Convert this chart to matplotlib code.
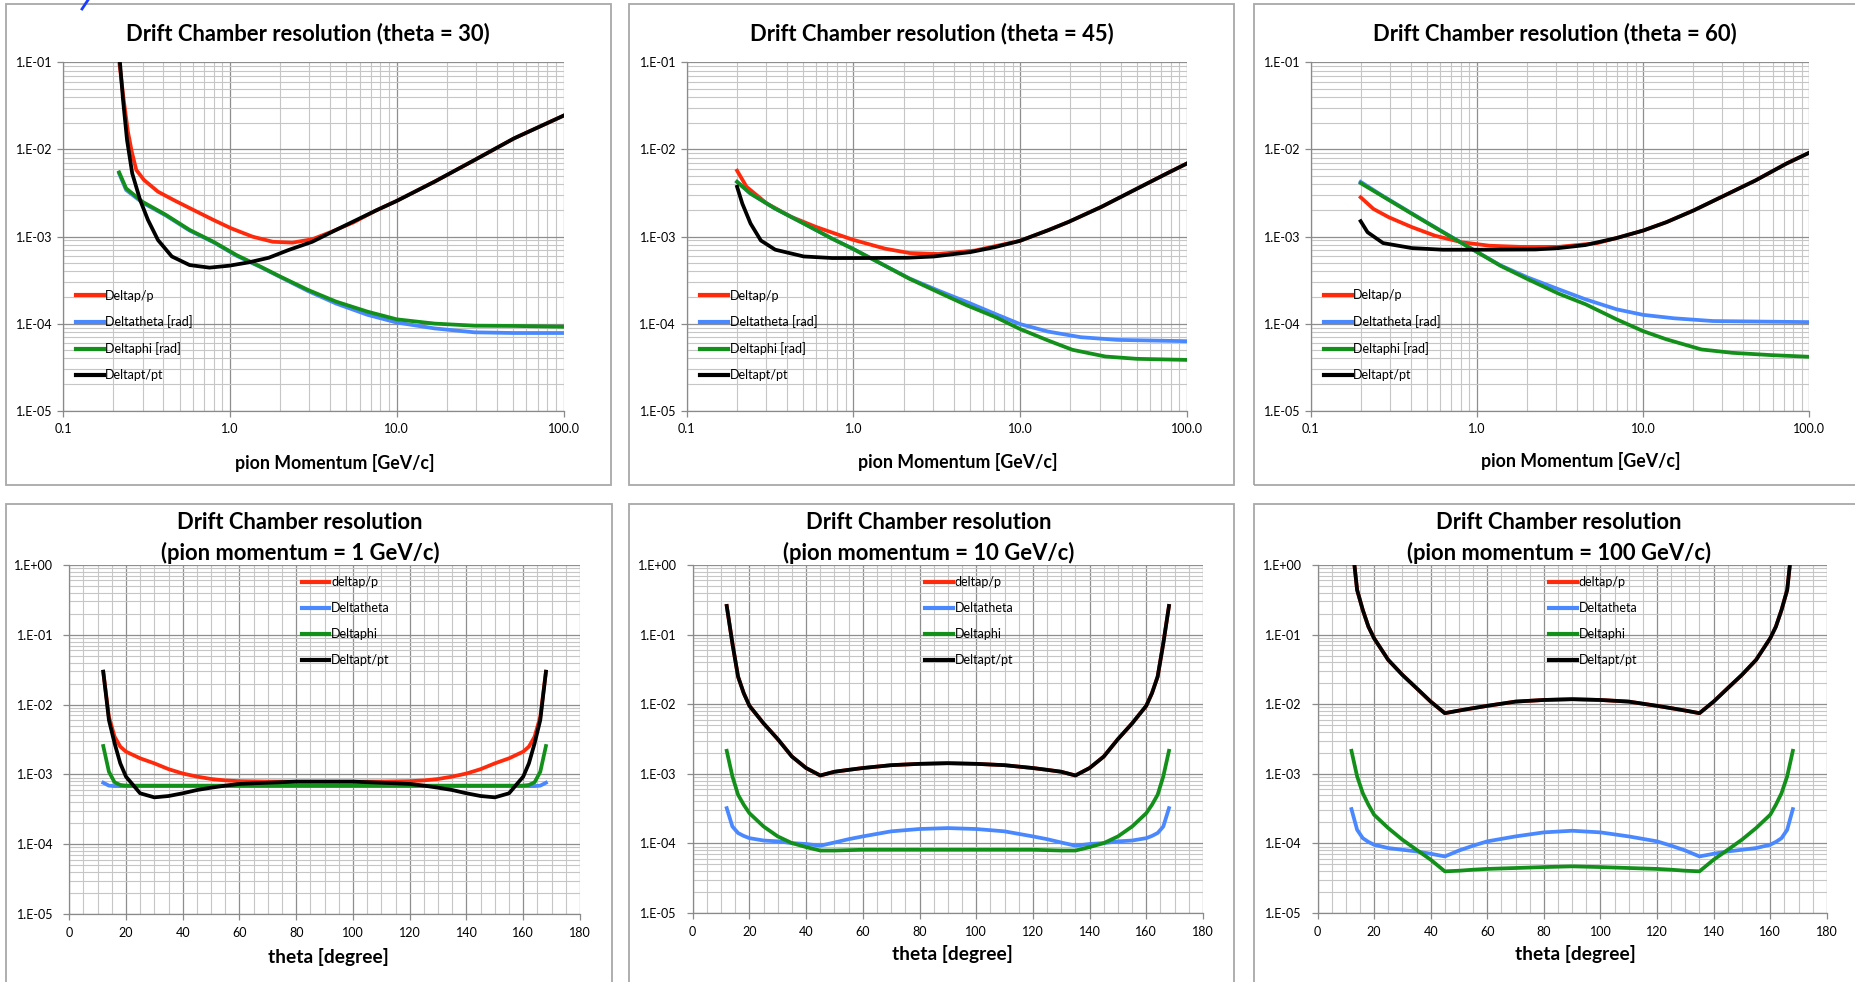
import numpy as np
import matplotlib
matplotlib.use('Agg')
import matplotlib.pyplot as plt
from matplotlib.patches import Rectangle
from matplotlib.lines import Line2D
from matplotlib.ticker import (LogLocator, FixedLocator, MultipleLocator,
                               FuncFormatter, NullFormatter)

plt.rcParams['font.family'] = ['Lato', 'DejaVu Sans']

W, H = 1855, 982

RED = '#ff2a0c'
BLUE = '#4a88ff'
GREEN = '#13901a'
BLACK = '#000000'

# ---- momentum scans (theta fixed) ----
# theta = 30
mom30_dp = [0.215, 0.232, 0.245, 0.258, 0.275, 0.306, 0.371, 0.461, 0.607, 0.797, 1.02, 1.37,
            1.81, 2.37, 3.12, 4.1, 5.5, 7.48, 10.0, 16.9, 29.3, 50.6, 100.0]
dp30 = [0.12, 0.035, 0.016, 0.0095, 5.8e-3, 4.45e-3, 3.27e-3, 2.62e-3, 2.01e-3, 1.55e-3, 1.24e-3, 9.95e-4,
        8.7e-4, 8.5e-4, 9.3e-4, 1.14e-3, 1.45e-3, 1.98e-3, 2.56e-3, 4.27e-3, 7.55e-3, 1.34e-2, 2.44e-2]
mom30_ang = [0.217, 0.239, 0.299, 0.414, 0.574, 0.797, 1.10, 1.53, 2.01, 2.95, 4.33, 6.7, 10.0,
             16.9, 29.3, 50.0, 100.0]
dth30 = [5.3e-3, 3.42e-3, 2.45e-3, 1.74e-3, 1.17e-3, 8.6e-4, 6.0e-4, 4.45e-4, 3.42e-4, 2.36e-4,
         1.70e-4, 1.26e-4, 1.03e-4, 8.8e-5, 7.94e-5, 7.8e-5, 7.8e-5]
dph30 = [5.45e-3, 3.57e-3, 2.51e-3, 1.77e-3, 1.19e-3, 8.7e-4, 6.1e-4, 4.5e-4, 3.46e-4, 2.43e-4,
         1.79e-4, 1.37e-4, 1.12e-4, 1.0e-4, 9.46e-5, 9.4e-5, 9.2e-5]
mom30_dpt = [0.213, 0.229, 0.242, 0.26, 0.29, 0.323, 0.371, 0.449, 0.574, 0.755, 0.99, 1.30, 1.71,
             2.25, 3.12, 4.33, 7.48, 10.0, 16.9, 29.3, 50.6, 100.0]
dpt30 = [0.2, 0.037, 0.0128, 5.3e-3, 2.62e-3, 1.55e-3, 9.1e-4, 5.9e-4, 4.7e-4, 4.39e-4, 4.62e-4,
         5.05e-4, 5.7e-4, 7.0e-4, 8.7e-4, 1.19e-3, 1.98e-3, 2.56e-3, 4.27e-3, 7.55e-3, 1.34e-2, 2.44e-2]

# theta = 45
mom45_dp = [0.201, 0.229, 0.303, 0.425, 0.596, 0.99, 1.55, 2.17, 3.22, 5.35, 9.94, 14.7, 19.5,
            30.7, 48.1, 75.5, 100.0]
dp45 = [5.7e-3, 3.72e-3, 2.39e-3, 1.68e-3, 1.29e-3, 9.2e-4, 7.25e-4, 6.46e-4, 6.3e-4, 6.9e-4,
        8.9e-4, 1.18e-3, 1.47e-3, 2.19e-3, 3.4e-3, 5.28e-3, 6.9e-3]
mom45_dth = [0.201, 0.242, 0.34, 0.504, 0.746, 0.99, 1.47, 2.17, 3.22, 4.79, 7.1, 9.94, 14.7,
             23.1, 38.4, 100.0]
dth45 = [4.24e-3, 3.11e-3, 2.09e-3, 1.41e-3, 9.45e-4, 7.25e-4, 4.87e-4, 3.3e-4, 2.4e-4, 1.77e-4,
         1.29e-4, 9.9e-5, 8.1e-5, 6.98e-5, 6.5e-5, 6.28e-5]
mom45_dph = [0.201, 0.242, 0.34, 0.504, 0.746, 0.99, 1.47, 2.17, 3.22, 4.79, 7.1, 9.94, 14.7,
             20.6, 32.4, 50.0, 100.0]
dph45 = [4.24e-3, 3.11e-3, 2.09e-3, 1.41e-3, 9.45e-4, 7.25e-4, 4.87e-4, 3.27e-4, 2.3e-4, 1.62e-4,
         1.19e-4, 8.7e-5, 6.4e-5, 5.0e-5, 4.19e-5, 3.94e-5, 3.83e-5]
mom45_dpt = [0.201, 0.216, 0.242, 0.279, 0.34, 0.504, 0.746, 1.17, 2.11, 3.05, 5.06, 7.1, 9.94,
             14.7, 19.5, 30.7, 48.1, 75.5, 100.0]
dpt45 = [3.72e-3, 2.39e-3, 1.41e-3, 9.0e-4, 7.06e-4, 5.9e-4, 5.66e-4, 5.66e-4, 5.7e-4, 5.9e-4,
         6.63e-4, 7.57e-4, 8.9e-4, 1.18e-3, 1.47e-3, 2.19e-3, 3.4e-3, 5.28e-3, 6.9e-3]

# theta = 60
mom60_dp = [0.2, 0.239, 0.296, 0.407, 0.561, 0.816, 1.19, 1.82, 3.1, 5.3, 6.92, 10.0, 13.8, 20.1,
            30.9, 47.4, 72.6, 100.0]
dp60 = [2.82e-3, 2.07e-3, 1.66e-3, 1.28e-3, 1.02e-3, 8.57e-4, 7.84e-4, 7.6e-4, 7.6e-4, 8.4e-4,
        9.6e-4, 1.17e-3, 1.46e-3, 1.99e-3, 2.96e-3, 4.4e-3, 6.86e-3, 9.18e-3]
mom60_dth = [0.2, 0.266, 0.407, 0.625, 1.01, 1.39, 2.02, 3.1, 4.5, 6.92, 10.0, 15.4, 26.3, 100.0]
dth60 = [4.24e-3, 3.0e-3, 1.84e-3, 1.13e-3, 6.6e-4, 4.65e-4, 3.39e-4, 2.48e-4, 1.9e-4, 1.46e-4,
         1.26e-4, 1.15e-4, 1.07e-4, 1.04e-4]
mom60_dph = [0.2, 0.266, 0.407, 0.625, 1.01, 1.39, 2.02, 3.1, 4.5, 6.92, 10.0, 13.8, 22.4, 34.4,
             58.6, 100.0]
dph60 = [4.1e-3, 2.96e-3, 1.82e-3, 1.12e-3, 6.58e-4, 4.6e-4, 3.24e-4, 2.21e-4, 1.67e-4, 1.12e-4,
         8.2e-5, 6.6e-5, 5.05e-5, 4.62e-5, 4.35e-5, 4.16e-5]
mom60_dpt = [0.2, 0.22, 0.273, 0.407, 0.625, 1.07, 2.25, 3.1, 4.5, 6.92, 10.0, 13.8, 20.1, 30.9,
             47.4, 72.6, 100.0]
dpt60 = [1.5e-3, 1.12e-3, 8.4e-4, 7.36e-4, 7.05e-4, 7.05e-4, 7.1e-4, 7.36e-4, 7.98e-4, 9.6e-4,
         1.17e-3, 1.46e-3, 1.99e-3, 2.96e-3, 4.4e-3, 6.86e-3, 9.18e-3]

# ---- theta scans (momentum fixed) ----
theta_deg = [12, 14, 16, 18, 20, 25, 30, 35, 40, 45, 50, 55, 60, 70, 80, 90,
             100, 110, 120, 125, 130, 135, 140, 145, 150, 155, 160, 162, 164, 166, 168]

# p = 1 GeV/c
p1_dp = [2.96e-2, 6.7e-3, 3.47e-3, 2.5e-3, 2.12e-3, 1.7e-3, 1.44e-3, 1.19e-3, 1.03e-3, 9.3e-4,
         8.6e-4, 8.2e-4, 8.0e-4, 7.9e-4, 7.9e-4, 7.9e-4, 7.9e-4, 7.9e-4, 8.0e-4, 8.2e-4, 8.6e-4,
         9.3e-4, 1.03e-3, 1.19e-3, 1.44e-3, 1.7e-3, 2.12e-3, 2.5e-3, 3.47e-3, 6.7e-3, 2.96e-2]
p1_dth = [7.6e-4, 6.9e-4, 6.8e-4, 6.8e-4, 6.8e-4, 6.8e-4, 6.8e-4, 6.8e-4, 6.8e-4, 6.8e-4,
          6.8e-4, 6.8e-4, 6.8e-4, 6.8e-4, 6.8e-4, 6.8e-4, 6.8e-4, 6.8e-4, 6.8e-4, 6.8e-4, 6.8e-4,
          6.8e-4, 6.8e-4, 6.8e-4, 6.8e-4, 6.8e-4, 6.8e-4, 6.8e-4, 6.8e-4, 6.9e-4, 7.6e-4]
p1_dph = [2.55e-3, 1.09e-3, 7.7e-4, 7.05e-4, 6.9e-4, 6.9e-4, 6.9e-4, 6.9e-4, 6.9e-4, 6.9e-4,
          6.9e-4, 6.9e-4, 6.9e-4, 6.9e-4, 6.9e-4, 6.9e-4, 6.9e-4, 6.9e-4, 6.9e-4, 6.9e-4, 6.9e-4,
          6.9e-4, 6.9e-4, 6.9e-4, 6.9e-4, 6.9e-4, 6.9e-4, 7.05e-4, 7.7e-4, 1.09e-3, 2.55e-3]
p1_dpt = [2.96e-2, 6.0e-3, 2.79e-3, 1.44e-3, 9.3e-4, 5.36e-4, 4.69e-4, 4.9e-4, 5.36e-4, 5.97e-4,
          6.45e-4, 6.9e-4, 7.3e-4, 7.6e-4, 7.87e-4, 7.87e-4, 7.87e-4, 7.6e-4, 7.3e-4, 6.9e-4,
          6.45e-4, 5.97e-4, 5.36e-4, 4.9e-4, 4.69e-4, 5.36e-4, 9.3e-4, 1.44e-3, 2.79e-3, 6.0e-3, 2.96e-2]

# p = 10 GeV/c
p10_dp = [0.258, 0.075, 0.0249, 0.0144, 9.5e-3, 5.3e-3, 3.15e-3, 1.77e-3, 1.21e-3, 9.46e-4,
          1.07e-3, 1.14e-3, 1.21e-3, 1.33e-3, 1.39e-3, 1.42e-3, 1.39e-3, 1.33e-3, 1.21e-3, 1.14e-3,
          1.07e-3, 9.46e-4, 1.21e-3, 1.77e-3, 3.15e-3, 5.3e-3, 9.5e-3, 0.0144, 0.0249, 0.075, 0.258]
p10_dth = [3.21e-4, 1.75e-4, 1.41e-4, 1.28e-4, 1.19e-4, 1.1e-4, 1.07e-4, 1.01e-4, 9.8e-5, 9.27e-5,
           1.03e-4, 1.15e-4, 1.26e-4, 1.49e-4, 1.61e-4, 1.66e-4, 1.61e-4, 1.49e-4, 1.26e-4, 1.15e-4,
           1.03e-4, 9.27e-5, 9.8e-5, 1.01e-4, 1.07e-4, 1.1e-4, 1.19e-4, 1.28e-4, 1.41e-4, 1.75e-4, 3.21e-4]
p10_dph = [2.14e-3, 9.2e-4, 5.0e-4, 3.59e-4, 2.72e-4, 1.75e-4, 1.26e-4, 1.01e-4, 8.85e-5, 7.9e-5,
           7.9e-5, 8.0e-5, 8.1e-5, 8.1e-5, 8.1e-5, 8.1e-5, 8.1e-5, 8.1e-5, 8.1e-5, 8.0e-5,
           7.9e-5, 7.9e-5, 8.85e-5, 1.01e-4, 1.26e-4, 1.75e-4, 2.72e-4, 3.59e-4, 5.0e-4, 9.2e-4, 2.14e-3]
p10_dpt = [0.258, 0.075, 0.0249, 0.0144, 9.5e-3, 5.3e-3, 3.15e-3, 1.77e-3, 1.21e-3, 9.46e-4,
           1.07e-3, 1.14e-3, 1.21e-3, 1.33e-3, 1.39e-3, 1.42e-3, 1.39e-3, 1.33e-3, 1.21e-3, 1.14e-3,
           1.07e-3, 9.46e-4, 1.21e-3, 1.77e-3, 3.15e-3, 5.3e-3, 9.5e-3, 0.0144, 0.0249, 0.075, 0.258]

# p = 100 GeV/c
p100_dp = [2.5, 0.438, 0.226, 0.13, 0.0885, 0.0433, 0.0264, 0.017, 0.0109, 7.43e-3,
           8.1e-3, 8.77e-3, 9.47e-3, 0.0109, 0.0115, 0.0118, 0.0115, 0.0109, 9.47e-3, 8.77e-3,
           8.1e-3, 7.43e-3, 0.0109, 0.017, 0.0264, 0.0433, 0.0885, 0.13, 0.226, 0.438, 2.5]
p100_dth = [3.11e-4, 1.57e-4, 1.19e-4, 1.05e-4, 9.57e-5, 8.57e-5, 8.1e-5, 7.67e-5, 7.1e-5, 6.5e-5,
            7.9e-5, 9.27e-5, 1.07e-4, 1.26e-4, 1.44e-4, 1.52e-4, 1.44e-4, 1.26e-4, 1.07e-4, 9.27e-5,
            7.9e-5, 6.5e-5, 7.1e-5, 7.67e-5, 8.1e-5, 8.57e-5, 9.57e-5, 1.05e-4, 1.19e-4, 1.57e-4, 3.11e-4]
p100_dph = [2.14e-3, 9.2e-4, 5.27e-4, 3.59e-4, 2.58e-4, 1.66e-4, 1.13e-4, 8.1e-5, 5.83e-5, 3.97e-5,
            4.05e-5, 4.19e-5, 4.3e-5, 4.43e-5, 4.57e-5, 4.68e-5, 4.57e-5, 4.43e-5, 4.3e-5, 4.19e-5,
            4.05e-5, 3.97e-5, 5.83e-5, 8.1e-5, 1.13e-4, 1.66e-4, 2.58e-4, 3.59e-4, 5.27e-4, 9.2e-4, 2.14e-3]
p100_dpt = [2.5, 0.438, 0.226, 0.13, 0.0885, 0.0433, 0.0264, 0.017, 0.0109, 7.43e-3,
            8.1e-3, 8.77e-3, 9.47e-3, 0.0109, 0.0115, 0.0118, 0.0115, 0.0109, 9.47e-3, 8.77e-3,
            8.1e-3, 7.43e-3, 0.0109, 0.017, 0.0264, 0.0433, 0.0885, 0.13, 0.226, 0.438, 2.5]

mom_labels = ['Deltap/p', 'Deltatheta [rad]', 'Deltaphi [rad]', 'Deltapt/pt']
theta_labels = ['deltap/p', 'Deltatheta', 'Deltaphi', 'Deltapt/pt']

fig = plt.figure(figsize=(W / 100, H / 100), dpi=100)


def fx(x):
    return x / W


def fy(y):
    return 1 - y / H


def panel_axes(x0, y0, x1, y1):
    return fig.add_axes([fx(x0), fy(y1), (x1 - x0) / W, (y1 - y0) / H])


def frame(x0, y0, x1, y1):
    fig.add_artist(Rectangle((fx(x0), fy(y1)), (x1 - x0) / W, (y1 - y0) / H,
                             transform=fig.transFigure, fill=False,
                             ec='#a8a8a8', lw=1.3))


def decade_label(v, pos):
    return '1.E%+03d' % int(round(np.log10(v)))


def style(ax, ypad):
    for s in ['top', 'right']:
        ax.spines[s].set_visible(False)
    for s in ['left', 'bottom']:
        ax.spines[s].set_color('#8a8a8a')
        ax.spines[s].set_linewidth(0.9)
        ax.spines[s].set_zorder(3)
    ax.set_axisbelow(True)
    ax.grid(which='minor', color='#c6c6c6', lw=0.8)
    ax.grid(which='major', color='#8e8e8e', lw=0.9)
    ax.tick_params(which='major', direction='out', length=4, width=0.9,
                   color='#8a8a8a', labelsize=9, pad=4.5)
    ax.tick_params(axis='y', which='major', pad=ypad)
    ax.tick_params(which='minor', length=0)
    ax.yaxis.set_minor_locator(LogLocator(base=10, subs=np.arange(2, 10), numticks=20))
    ax.yaxis.set_minor_formatter(NullFormatter())
    ax.yaxis.set_major_formatter(FuncFormatter(decade_label))


def add_legend(ax, labels, x, y):
    handles = [Line2D([], [], color=c, lw=3) for c in (RED, BLUE, GREEN, BLACK)]
    ax.legend(handles, labels, loc='upper left', bbox_to_anchor=(fx(x), fy(y)),
              bbox_transform=fig.transFigure, frameon=False, fontsize=9,
              handlelength=2.2, handletextpad=0.15, labelspacing=1.12,
              borderpad=0, borderaxespad=0)


def momentum_panel(box, theta, series, legend_xy, title_xy, xlabel_xy):
    ax = panel_axes(*box)
    ax.set_xscale('log')
    ax.set_yscale('log')
    ax.set_xlim(0.1, 100)
    ax.set_ylim(1e-5, 1e-1)
    ax.xaxis.set_major_locator(FixedLocator([0.1, 1, 10, 100]))
    ax.xaxis.set_minor_locator(LogLocator(base=10, subs=np.arange(2, 10), numticks=20))
    ax.xaxis.set_minor_formatter(NullFormatter())
    ax.xaxis.set_major_formatter(FuncFormatter(lambda v, pos: '%.1f' % v))
    ax.yaxis.set_major_locator(FixedLocator([1e-5, 1e-4, 1e-3, 1e-2, 1e-1]))
    style(ax, 3.5)
    for (xs, ys), c in zip(series, (RED, BLUE, GREEN, BLACK)):
        ax.plot(xs, ys, color=c, lw=2.7, solid_joinstyle='round')
    add_legend(ax, mom_labels, *legend_xy)
    fig.text(fx(title_xy[0]), fy(title_xy[1]),
             'Drift Chamber resolution (theta = %d)' % theta,
             ha='center', va='center', fontsize=15.8, fontweight='bold')
    fig.text(fx(xlabel_xy[0]), fy(xlabel_xy[1]), 'pion Momentum [GeV/c]',
             ha='center', va='center', fontsize=12.8, fontweight='bold')


def theta_panel(box, mom, series, legend_xy, title_xy, xlabel_xy):
    ax = panel_axes(*box)
    ax.set_yscale('log')
    ax.set_xlim(0, 180)
    ax.set_ylim(1e-5, 1)
    ax.xaxis.set_major_locator(MultipleLocator(20))
    ax.xaxis.set_minor_locator(MultipleLocator(5))
    ax.yaxis.set_major_locator(FixedLocator([1e-5, 1e-4, 1e-3, 1e-2, 1e-1, 1]))
    style(ax, 7.5)
    ax.tick_params(axis='x', which='major', pad=5.5)
    for ys, c in zip(series, (RED, BLUE, GREEN, BLACK)):
        ax.plot(theta_deg, ys, color=c, lw=2.7, solid_joinstyle='round')
    add_legend(ax, theta_labels, *legend_xy)
    fig.text(fx(title_xy[0]), fy(title_xy[1]),
             'Drift Chamber resolution\n(pion momentum = %d GeV/c)' % mom,
             ha='center', va='center', fontsize=15.8, fontweight='bold',
             linespacing=1.5)
    fig.text(fx(xlabel_xy[0]), fy(xlabel_xy[1]), 'theta [degree]',
             ha='center', va='center', fontsize=13.8, fontweight='bold')


# panel frames
frame(5.5, 4, 611, 485)
frame(629, 4, 1233.5, 485)
frame(1254, 4, 1860, 485)
frame(5.5, 504, 612, 990)
frame(629, 504, 1234, 990)
frame(1254, 504, 1860, 990)

momentum_panel((63, 62.3, 563.5, 410.7), 30,
               [(mom30_dp, dp30), (mom30_ang, dth30), (mom30_ang, dph30), (mom30_dpt, dpt30)],
               (76, 289.5), (308, 34), (335, 463))
momentum_panel((686.5, 62.3, 1187, 410.7), 45,
               [(mom45_dp, dp45), (mom45_dth, dth45), (mom45_dph, dph45), (mom45_dpt, dpt45)],
               (700.4, 289.5), (931.6, 34), (958, 462))
momentum_panel((1310.6, 62.3, 1809.4, 410.7), 60,
               [(mom60_dp, dp60), (mom60_dth, dth60), (mom60_dph, dph60), (mom60_dpt, dpt60)],
               (1324, 289), (1554.8, 34), (1581, 461))

theta_panel((69.2, 565, 580, 914), 1, [p1_dp, p1_dth, p1_dph, p1_dpt],
            (301.7, 576.5), (300, 538), (328, 957))
theta_panel((692.7, 565, 1203, 913), 10, [p10_dp, p10_dth, p10_dph, p10_dpt],
            (925.3, 576.5), (928.6, 538), (952, 954))
theta_panel((1317.5, 565, 1826.8, 913), 100, [p100_dp, p100_dth, p100_dph, p100_dpt],
            (1549, 576.5), (1558.6, 538), (1575.6, 954))

# stray stroke of slide text above the panels
fig.add_artist(Line2D([fx(88), fx(82)], [fy(0), fy(9)], transform=fig.transFigure,
                      color='#1a3cff', lw=2))

fig.savefig('out.png', dpi=100)
